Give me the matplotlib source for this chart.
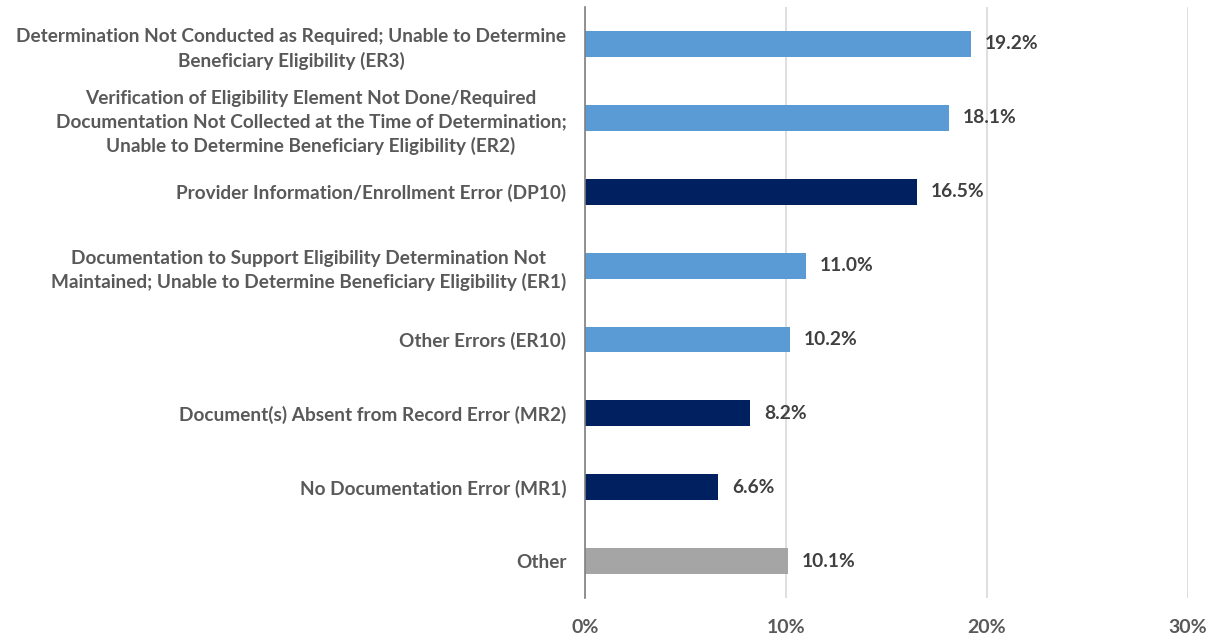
import matplotlib
matplotlib.use("Agg")
import matplotlib.pyplot as plt
from matplotlib.ticker import FuncFormatter

categories = [
    "Determination Not Conducted as Required; Unable to Determine\nBeneficiary Eligibility (ER3)",
    "Verification of Eligibility Element Not Done/Required\nDocumentation Not Collected at the Time of Determination;\nUnable to Determine Beneficiary Eligibility (ER2)",
    "Provider Information/Enrollment Error (DP10)",
    "Documentation to Support Eligibility Determination Not\nMaintained; Unable to Determine Beneficiary Eligibility (ER1)",
    "Other Errors (ER10)",
    "Document(s) Absent from Record Error (MR2)",
    "No Documentation Error (MR1)",
    "Other",
]
values = [19.2, 18.1, 16.5, 11.0, 10.2, 8.2, 6.6, 10.1]
groups = ["ER", "ER", "DP", "ER", "ER", "MR", "MR", "Other"]
ticks = [0, 10, 20, 30]

colors = {"ER": "#5B9BD5", "DP": "#002060", "MR": "#002060", "Other": "#A5A5A5"}
txt = "#595959"

plt.rcParams['font.family'] = ['Lato', 'DejaVu Sans']

fig = plt.figure(figsize=(12.1, 6.35), dpi=100)
ax = fig.add_axes([0.4835, 0.058, 0.9818 - 0.4835, 0.989 - 0.058])

ypos = list(range(len(categories)))
ax.barh(ypos, values, height=0.35, color=[colors[g] for g in groups], zorder=3)
for y, v in zip(ypos, values):
    ax.text(v + 0.7, y, f"{v:.1f}%", va="center", ha="left",
            fontsize=13.8, fontweight="bold", color="#404040")

ax.set_ylim(len(categories) - 0.5, -0.5)
ax.set_xlim(0, 30)
ax.set_xticks(ticks)
ax.xaxis.set_major_formatter(FuncFormatter(lambda x, p: f"{x:.0f}%"))
ax.set_yticks(ypos)
ax.set_yticklabels(categories, ha="right", multialignment="center",
                   fontsize=13.7, fontweight="bold", color=txt, linespacing=1.45)
ax.tick_params(axis="y", length=0, pad=13.5)
ax.tick_params(axis="x", length=0, pad=15, labelsize=14, labelcolor=txt)
for lbl in ax.get_xticklabels():
    lbl.set_fontweight("bold")

ax.grid(axis="x", color="#D9D9D9", linewidth=1.2, zorder=0)
for s in ["top", "right", "bottom"]:
    ax.spines[s].set_visible(False)
ax.spines["left"].set_color("#7F7F7F")
ax.spines["left"].set_linewidth(1.2)
ax.spines["left"].set_zorder(4)

fig.savefig("out.png", dpi=100)
